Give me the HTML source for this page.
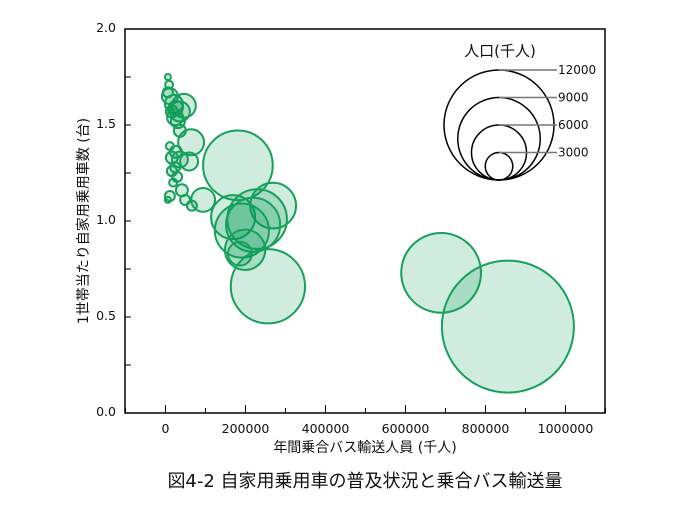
<!DOCTYPE html>
<html><head><meta charset="utf-8"><style>
body{margin:0;background:#fff}
svg text{font-family:"DejaVu Sans","Noto Sans CJK JP",sans-serif;fill:#111}
</style></head><body>
<svg id="chart" width="700" height="502" viewBox="0 0 700 502" xmlns="http://www.w3.org/2000/svg">
<g id="axes"></g><g id="bubbles"></g><g id="legend"></g>
<text x="365" y="452" text-anchor="middle" font-size="14">年間乗合バス輸送人員 (千人)</text>
<text transform="translate(88,221) rotate(-90)" text-anchor="middle" font-size="14">1世帯当たり自家用乗用車数 (台)</text>
<text x="365" y="487" text-anchor="middle" font-size="18">図4-2 自家用乗用車の普及状況と乗合バス輸送量</text>
</svg>
<script>
const passengers=[6000,9000,6000,11000,21000,46000,26000,16000,36000,24000,31000,36000,64000,11000,26000,16000,36000,59000,24000,16000,29000,19000,41000,11000,6000,49000,66000,94000,181000,169000,269000,229000,219000,191000,199000,186000,256000,689000,856000];
const carsPerHousehold=[1.75,1.71,1.67,1.65,1.61,1.60,1.59,1.57,1.57,1.54,1.52,1.47,1.41,1.39,1.36,1.33,1.32,1.31,1.28,1.26,1.23,1.20,1.16,1.13,1.11,1.11,1.08,1.11,1.29,1.02,1.08,1.01,0.98,0.95,0.85,0.83,0.66,0.73,0.45];
const population=[650,870,1090,1740,1960,2600,1530,1310,2180,1740,1530,1310,2830,870,1310,1310,1740,1960,1090,1090,1090,870,1310,1090,650,1090,1090,2600,7600,4800,5000,6500,5900,5900,4400,2600,8100,8700,14400];
const xTicks=[0,200000,400000,600000,800000,1000000];
const yTicks=[0.0,0.5,1.0,1.5,2.0];
const legendValues=[12000,9000,6000,3000];

const NS="http://www.w3.org/2000/svg";
const L=125,R=605,T=29,B=413;
const xS=v=>165.5+v/2500;
const yS=v=>B-v*192;
const rS=p=>p*55/12000;
function mk(tag,attrs,parent,txt){const e=document.createElementNS(NS,tag);for(const k in attrs)e.setAttribute(k,attrs[k]);if(txt!==undefined)e.textContent=txt;parent.appendChild(e);return e;}
const axes=document.getElementById('axes');
const frame=mk('rect',{x:L,y:T,width:R-L,height:B-T,fill:'none',stroke:'#000','stroke-width':1.5},axes);


for(let v=-100000;v<=1100000;v+=100000){
  const major=v%200000===0;
  const t=mk('line',{x1:xS(v),x2:xS(v),y1:B,y2:B-(major?8:5),stroke:'#000','stroke-width':1},axes);
  
  
}
xTicks.forEach(v=>{
  const t=mk('text',{x:xS(v),y:B+20,'text-anchor':'middle','font-size':12.5},axes,String(v));
  
  
});
for(let v=0.25;v<2;v+=0.25){
  const t=mk('line',{x1:L,x2:L+6,y1:yS(v),y2:yS(v),stroke:'#000','stroke-width':1},axes);
  
  
}
yTicks.forEach(v=>{
  const t=mk('text',{x:L-9,y:yS(v)+3,'text-anchor':'end','font-size':12.5},axes,v.toFixed(1));
  
  
});
const bub=document.getElementById('bubbles');
passengers.forEach((x,i)=>{
  const c=mk('circle',{cx:xS(x),cy:yS(carsPerHousehold[i]),r:rS(population[i]),fill:'rgba(0,153,85,0.19)',stroke:'#17a05a','stroke-width':2},bub);
  
  
});
const lg=document.getElementById('legend');
const lt=mk('text',{x:500,y:56,'text-anchor':'middle','font-size':15},lg,'人口(千人)');


const lcx=499,lby=180;
legendValues.forEach(p=>{
  const r=rS(p);
  const c=mk('circle',{cx:lcx,cy:lby-r,r:r,fill:'none',stroke:'#000','stroke-width':1.5},lg);
  
  
  const l=mk('line',{x1:lcx,x2:557,y1:lby-2*r,y2:lby-2*r,stroke:'#777','stroke-width':1.5},lg);
  
  
  const t=mk('text',{x:558,y:lby-2*r+4,'font-size':12},lg,String(p));
  
  
});
</script>
</body></html>
